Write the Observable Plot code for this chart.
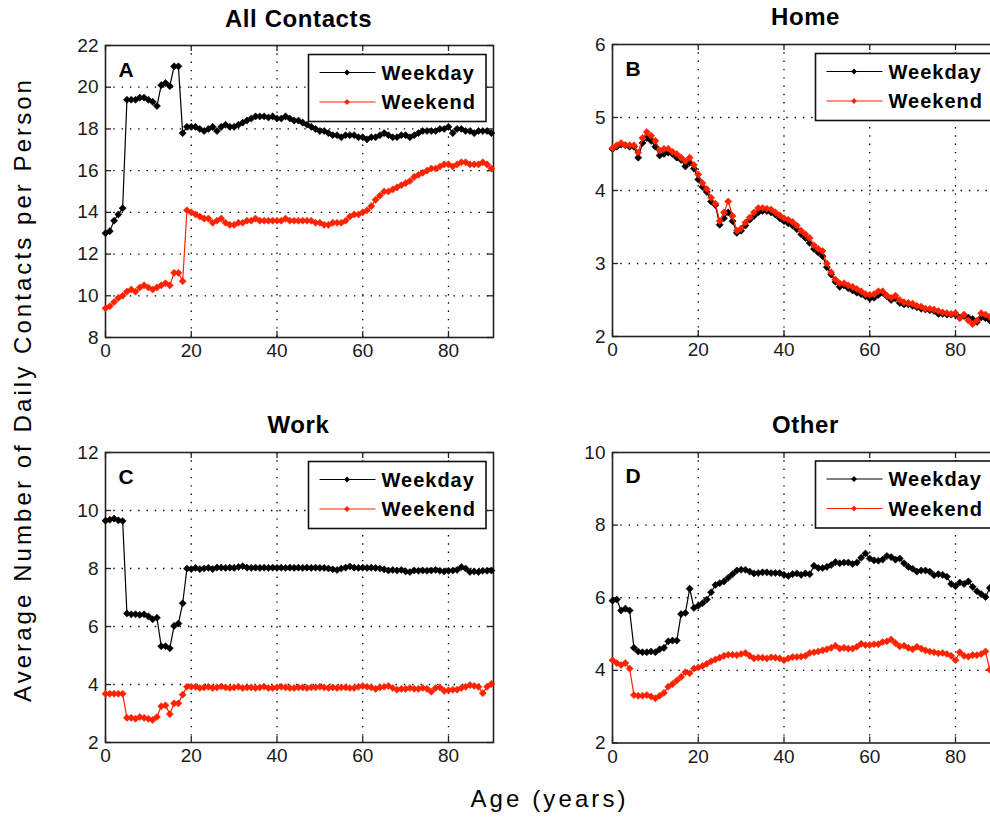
<!DOCTYPE html>
<html><head><meta charset="utf-8">
<script src="https://cdn.jsdelivr.net/npm/d3@7"></script>
<script src="https://cdn.jsdelivr.net/npm/@observablehq/plot@0.6"></script>
<style>
html,body{margin:0;padding:0;background:#fff;overflow:hidden;}
#root{position:relative;width:990px;height:817px;overflow:hidden;background:#fff;}
#root > svg{position:absolute;}
</style></head><body><div id="root"></div>
<script>
const ages = [0,1,2,3,4,5,6,7,8,9,10,11,12,13,14,15,16,17,18,19,20,21,22,23,24,25,26,27,28,29,30,31,32,33,34,35,36,37,38,39,40,41,42,43,44,45,46,47,48,49,50,51,52,53,54,55,56,57,58,59,60,61,62,63,64,65,66,67,68,69,70,71,72,73,74,75,76,77,78,79,80,81,82,83,84,85,86,87,88,89,90];

const allWeekday = [13.0,13.1,13.6,13.9,14.2,19.4,19.4,19.4,19.5,19.5, 19.4,19.3,19.1,20.1,20.2,20.05,21.0,21.0,17.8,18.1, 18.1,18.1,18.0,17.9,18.0,18.1,17.9,18.1,18.2,18.1, 18.1,18.2,18.3,18.4,18.5,18.6,18.6,18.6,18.55,18.6, 18.5,18.5,18.6,18.5,18.4,18.4,18.3,18.2,18.1,18.0, 17.9,17.9,17.8,17.7,17.7,17.6,17.7,17.7,17.7,17.6, 17.6,17.5,17.6,17.6,17.7,17.8,17.7,17.6,17.6,17.7, 17.7,17.6,17.7,17.8,17.9,17.9,17.9,17.9,18.0,18.0, 18.1,17.8,18.0,18.0,17.9,17.9,17.8,17.9,17.9,17.9, 17.8];
const allWeekend = [9.4,9.5,9.7,9.9,10.0,10.2,10.3,10.2,10.4,10.5, 10.4,10.3,10.4,10.5,10.6,10.5,11.1,11.1,10.7,14.1, 14.0,13.9,13.8,13.7,13.7,13.5,13.6,13.7,13.5,13.4, 13.4,13.5,13.5,13.6,13.6,13.7,13.6,13.6,13.6,13.6, 13.6,13.6,13.7,13.6,13.6,13.6,13.6,13.6,13.6,13.5, 13.5,13.4,13.4,13.5,13.5,13.5,13.6,13.8,13.9,13.9, 14.0,14.1,14.3,14.6,14.8,15.0,15.0,15.1,15.2,15.3, 15.4,15.5,15.7,15.8,15.9,16.0,16.1,16.1,16.2,16.3, 16.3,16.2,16.3,16.4,16.4,16.3,16.3,16.3,16.4,16.3, 16.1];

const homeWeekday = [4.57,4.6,4.63,4.62,4.6,4.6,4.45,4.65,4.72,4.68, 4.6,4.48,4.5,4.52,4.5,4.45,4.42,4.33,4.38,4.3, 4.15,4.05,3.98,3.85,3.8,3.53,3.62,3.7,3.58,3.42, 3.45,3.52,3.6,3.65,3.7,3.72,3.72,3.7,3.67,3.62, 3.58,3.55,3.52,3.47,3.4,3.35,3.28,3.2,3.15,3.1, 2.95,2.85,2.75,2.68,2.7,2.66,2.63,2.6,2.58,2.55, 2.52,2.53,2.57,2.6,2.55,2.5,2.52,2.46,2.44,2.44, 2.42,2.4,2.38,2.37,2.36,2.35,2.31,2.31,2.3,2.3, 2.3,2.26,2.28,2.26,2.24,2.2,2.26,2.25,2.22,2.2, 2.2];
const homeWeekend = [4.58,4.62,4.65,4.62,4.62,4.62,4.52,4.72,4.8,4.75, 4.68,4.55,4.57,4.57,4.53,4.5,4.45,4.4,4.45,4.35, 4.22,4.1,4.02,3.9,3.82,3.58,3.7,3.85,3.65,3.45, 3.48,3.56,3.63,3.7,3.76,3.76,3.75,3.74,3.7,3.66, 3.62,3.6,3.57,3.52,3.45,3.4,3.35,3.25,3.2,3.17, 3.0,2.88,2.78,2.73,2.73,2.7,2.68,2.65,2.62,2.58, 2.57,2.58,2.62,2.62,2.56,2.53,2.56,2.5,2.47,2.46, 2.45,2.42,2.41,2.38,2.38,2.37,2.35,2.33,2.32,2.31, 2.32,2.25,2.3,2.22,2.17,2.22,2.32,2.3,2.27,2.25, 2.25];

const workWeekday = [9.65,9.68,9.72,9.66,9.64,6.45,6.42,6.42,6.4,6.42, 6.35,6.25,6.3,5.32,5.32,5.25,6.02,6.1,6.8,8.0, 7.98,8.02,7.98,8.0,8.02,7.98,8.03,8.03,8.02,8.03, 8.02,8.05,8.08,8.03,8.02,8.03,8.02,8.03,8.02,8.03, 8.02,8.03,8.02,8.03,8.02,8.03,8.02,8.03,8.02,8.03, 8.02,8.02,8.0,7.97,7.95,8.0,8.03,8.07,8.03,8.02, 8.03,8.02,8.03,8.02,8.0,7.97,7.93,7.95,7.93,7.95, 7.9,7.88,7.93,7.92,7.93,7.92,7.93,7.95,7.92,7.9, 7.92,7.93,7.95,8.05,8.0,7.88,7.9,7.88,7.92,7.92, 7.93];
const workWeekend = [3.68,3.68,3.68,3.68,3.68,2.85,2.85,2.82,2.88,2.85, 2.82,2.78,2.88,3.25,3.28,2.98,3.35,3.35,3.65,3.92, 3.92,3.92,3.88,3.9,3.92,3.88,3.9,3.93,3.9,3.88, 3.9,3.92,3.88,3.9,3.9,3.88,3.9,3.92,3.88,3.88, 3.9,3.92,3.9,3.88,3.88,3.9,3.9,3.88,3.9,3.9, 3.92,3.9,3.88,3.9,3.88,3.9,3.9,3.88,3.88,3.92, 3.95,3.92,3.9,3.85,3.9,3.92,3.95,3.88,3.82,3.85, 3.85,3.88,3.85,3.85,3.88,3.85,3.75,3.88,3.9,3.78, 3.8,3.82,3.82,3.88,3.92,3.98,3.95,3.92,3.7,3.92, 4.02];

const otherWeekday = [5.92,5.95,5.65,5.7,5.65,4.62,4.52,4.5,4.5,4.52, 4.5,4.58,4.62,4.8,4.82,4.82,5.55,5.58,6.25,5.72, 5.78,5.85,5.95,6.15,6.35,6.4,6.45,6.55,6.65,6.75, 6.77,6.77,6.72,6.67,6.68,6.7,6.7,6.68,6.68,6.68, 6.63,6.6,6.65,6.67,6.63,6.67,6.65,6.88,6.82,6.82, 6.85,6.9,6.98,6.95,6.97,6.97,6.93,6.97,7.1,7.22, 7.08,7.03,7.02,7.05,7.15,7.12,7.05,7.08,6.95,6.85, 6.8,6.72,6.75,6.75,6.72,6.62,6.65,6.63,6.58,6.38, 6.32,6.42,6.38,6.45,6.3,6.18,6.1,6.02,6.27,6.15, 6.05];
const otherWeekend = [4.28,4.2,4.15,4.2,4.05,3.32,3.3,3.3,3.32,3.28, 3.23,3.3,3.38,3.55,3.62,3.72,3.82,3.95,3.92,4.05, 4.08,4.12,4.18,4.25,4.3,4.35,4.4,4.43,4.43,4.42, 4.45,4.48,4.4,4.33,4.35,4.35,4.33,4.36,4.35,4.33, 4.28,4.33,4.37,4.37,4.38,4.4,4.48,4.5,4.52,4.55, 4.58,4.62,4.68,4.6,4.62,4.6,4.6,4.65,4.73,4.7, 4.7,4.72,4.72,4.78,4.8,4.85,4.75,4.66,4.68,4.62, 4.58,4.65,4.6,4.55,4.52,4.5,4.47,4.48,4.45,4.4, 4.28,4.5,4.4,4.38,4.42,4.42,4.45,4.52,4.02,4.0, 3.98];

const xTicks = [0,20,40,60,80];
const allTicks = [8,10,12,14,16,18,20,22];
const homeTicks = [2,3,4,5,6];
const workTicks = [2,4,6,8,10,12];
const otherTicks = [2,4,6,8,10];
const seriesNames = ["Weekday","Weekend"];
const seriesColors = ["#000000","#ff2200"];

const FONT = "'Liberation Sans', Arial, Helvetica, sans-serif";

const panels = [
  {title:"All Contacts", letter:"A", wd:allWeekday, we:allWeekend, yDomain:[8,22], yTicks:allTicks, box:{left:104.5, top:45, w:388, h:292}, titleY:27},
  {title:"Home", letter:"B", wd:homeWeekday, we:homeWeekend, yDomain:[2,6], yTicks:homeTicks, box:{left:611.5, top:44, w:388, h:292}, titleY:25},
  {title:"Work", letter:"C", wd:workWeekday, we:workWeekend, yDomain:[2,12], yTicks:workTicks, box:{left:104.5, top:452, w:388, h:290}, titleY:433},
  {title:"Other", letter:"D", wd:otherWeekday, we:otherWeekend, yDomain:[2,10], yTicks:otherTicks, box:{left:611.5, top:451.5, w:388, h:290.5}, titleY:433}
];

const root = document.getElementById("root");
const mL = 50, mR = 10, mT = 12, mB = 36;
const gridStyle = {stroke:"#000", strokeOpacity:1, strokeWidth:1.3, strokeDasharray:"1.4,6.9"};
const MR = 3.2;

for (const p of panels) {
  const rows = (vals, s) => ages.map((a, i) => ({age:a, value:vals[i], series:s}));
  const wd = rows(p.wd, seriesNames[0]);
  const we = rows(p.we, seriesNames[1]);
  const inner = p.yTicks.slice(1, -1);
  const chart = Plot.plot({
    width: mL + p.box.w + mR,
    height: mT + p.box.h + mB,
    marginLeft: mL, marginRight: mR, marginTop: mT, marginBottom: mB,
    style: {background:"transparent", fontFamily: FONT, fontSize:"19px", color:"#1a1a1a", overflow:"visible"},
    x: {domain:[0, 90.5]},
    y: {domain: p.yDomain},
    marks: [
      Plot.gridX(xTicks.slice(1), gridStyle),
      Plot.gridY(inner, gridStyle),
      Plot.tickX(xTicks, {x: d => d, insetTop: p.box.h - 6, stroke:"#222", strokeWidth:1.3}),
      Plot.tickX(xTicks, {x: d => d, insetBottom: p.box.h - 6, stroke:"#222", strokeWidth:1.3}),
      Plot.tickY(p.yTicks, {y: d => d, insetRight: p.box.w - 6, stroke:"#222", strokeWidth:1.3}),
      Plot.tickY(p.yTicks, {y: d => d, insetLeft: p.box.w - 6, stroke:"#222", strokeWidth:1.3}),
      Plot.frame({stroke:"#222", strokeWidth:1.6}),
      Plot.axisX({ticks: xTicks, tickSize:0, tickPadding:6, tickFormat: d => String(d), label:null}),
      Plot.axisY({ticks: p.yTicks, tickSize:0, tickPadding:7, tickFormat: d => String(d), label:null}),
      Plot.line(wd, {x:"age", y:"value", stroke:seriesColors[0], strokeWidth:1.2}),
      Plot.dot(wd, {x:"age", y:"value", symbol:"diamond2", r:MR, fill:seriesColors[0], stroke:seriesColors[0], strokeWidth:0.6}),
      Plot.line(we, {x:"age", y:"value", stroke:seriesColors[1], strokeWidth:1.2}),
      Plot.dot(we, {x:"age", y:"value", symbol:"diamond2", r:MR, fill:seriesColors[1], stroke:seriesColors[1], strokeWidth:0.6})
    ]
  });
  chart.style.left = (p.box.left - mL) + "px";
  chart.style.top = (p.box.top - mT) + "px";
  root.appendChild(chart);
}

// Overlay: titles, panel letters, legends, axis labels
const ov = d3.create("svg").attr("width", 990).attr("height", 817)
  .style("left", "0px").style("top", "0px").style("font-family", FONT);
const diamond = d3.symbol(d3.symbolDiamond2, 2.6 * 2.6 * Math.PI)();

for (const p of panels) {
  const b = p.box;
  ov.append("text").attr("x", b.left + b.w / 2).attr("y", p.titleY)
    .attr("text-anchor", "middle").attr("font-size", 24).attr("font-weight", "bold")
    .attr("letter-spacing", 0.6).attr("fill", "#000").text(p.title);
  ov.append("text").attr("x", b.left + 14).attr("y", b.top + 31.5)
    .attr("font-size", 21).attr("font-weight", "bold").attr("fill", "#000").text(p.letter);
  const lx = b.left + 204, ly = b.top + 9.5;
  const g = ov.append("g");
  g.append("rect").attr("x", lx).attr("y", ly).attr("width", 177.5).attr("height", 67)
    .attr("fill", "#fff").attr("stroke", "#111").attr("stroke-width", 1.6);
  seriesNames.forEach((name, i) => {
    const cy = ly + 18 + i * 29.5;
    g.append("line").attr("x1", lx + 11).attr("x2", lx + 67).attr("y1", cy).attr("y2", cy)
      .attr("stroke", seriesColors[i]).attr("stroke-width", 1.2);
    g.append("path").attr("d", diamond).attr("transform", `translate(${lx + 38.5},${cy})`)
      .attr("fill", seriesColors[i]);
    g.append("text").attr("x", lx + 73).attr("y", cy + 7).attr("font-size", 20)
      .attr("font-weight", "bold").attr("letter-spacing", 1).attr("fill", "#000").text(name);
  });
}

ov.append("text").attr("transform", "translate(31,391) rotate(-90)")
  .attr("text-anchor", "middle").attr("font-size", 24).attr("fill", "#000")
  .attr("textLength", 622).attr("lengthAdjust", "spacing")
  .text("Average Number of Daily Contacts per Person");
ov.append("text").attr("x", 548).attr("y", 807)
  .attr("text-anchor", "middle").attr("font-size", 24).attr("fill", "#000")
  .attr("textLength", 155).attr("lengthAdjust", "spacing")
  .text("Age (years)");

root.appendChild(ov.node());
</script>
</body></html>
